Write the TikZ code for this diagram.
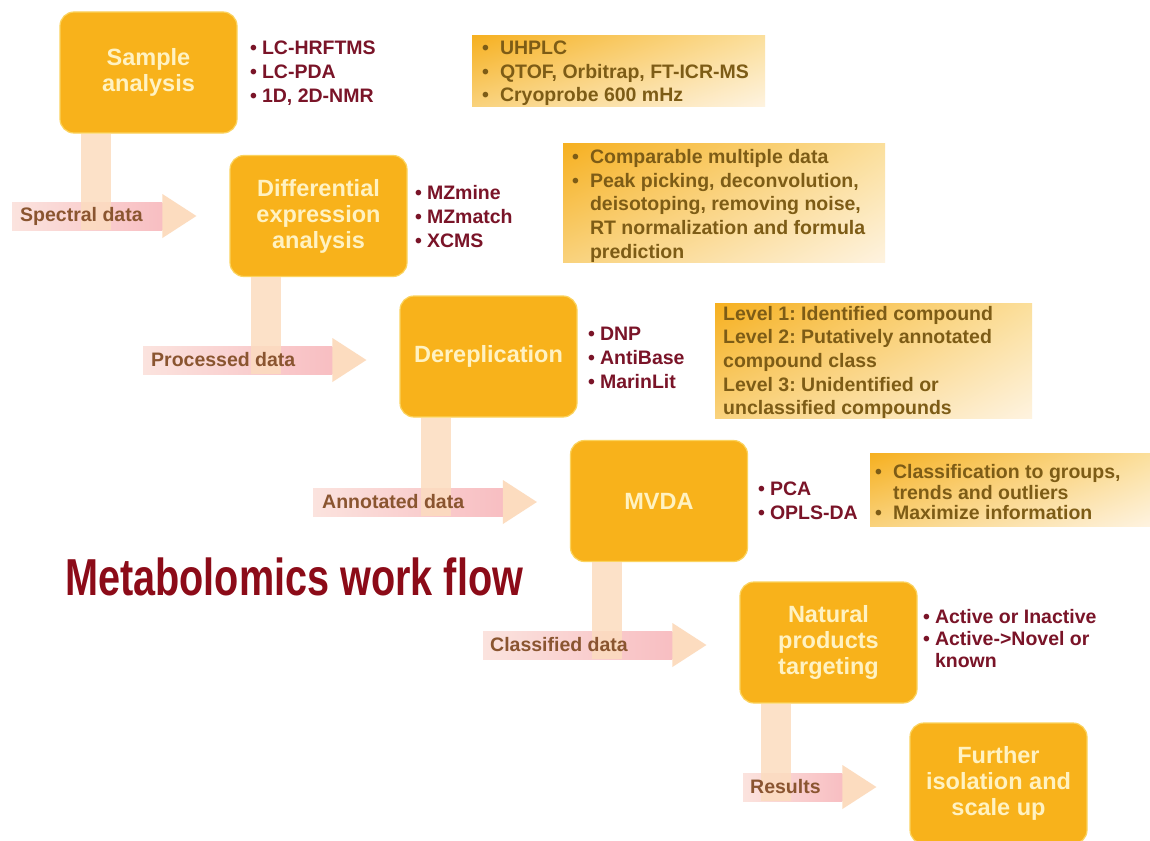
\documentclass[tikz,border=0pt]{standalone}
\usepackage{fontspec}
\setmainfont{Liberation Sans}
\usetikzlibrary{calc,shadings}
\frenchspacing
\definecolor{boxfill}{HTML}{F8B21B}
\definecolor{boxedge}{HTML}{FBD35E}
\definecolor{boxtext}{HTML}{FFF2C2}
\definecolor{listred}{HTML}{7A1428}
\definecolor{infotext}{HTML}{7D5C16}
\definecolor{lbltext}{HTML}{8A5530}
\definecolor{barcol}{HTML}{FCDCBF}
\definecolor{shaftL}{HTML}{FBE3DE}
\definecolor{shaftR}{HTML}{F8BEC2}
\definecolor{titlered}{HTML}{8C0B18}
\definecolor{infoUL}{HTML}{F6B020}
\definecolor{infoUR}{HTML}{FBDF9C}
\definecolor{infoLL}{HTML}{F9D27C}
\definecolor{infoLR}{HTML}{FEF3E0}
\tikzset{
  stage/.style={rounded corners=14pt, fill=boxfill, draw=boxedge, line width=1.2pt,
    minimum width=177pt, minimum height=121pt, text=boxtext,
    font=\fontsize{23.5}{26}\selectfont\bfseries, align=center, inner sep=0pt},
  blist/.style={anchor=north west, inner sep=0pt, text=listred,
    font=\fontsize{19.5}{24}\selectfont\bfseries},
  infobox/.style={anchor=north west, inner sep=0pt, shade,
    upper left=infoUL, upper right=infoUR, lower left=infoLL, lower right=infoLR},
  infotxt/.style={anchor=north west, inner sep=0pt, text=infotext,
    font=\fontsize{19.5}{23.6}\selectfont\bfseries},
  lbl/.style={anchor=west, inner sep=0pt, text=lbltext,
    font=\fontsize{19.5}{24}\selectfont\bfseries},
  barstyle/.style={fill=barcol, opacity=0.85},
  shaftstyle/.style={left color=shaftL, right color=shaftR},
  headstyle/.style={fill=barcol}
}
\newcommand{\bl}{\textbullet}
\begin{document}
\begin{tikzpicture}[x=1pt,y=-1pt]
\fill[white] (0,0) rectangle (1150,840);
\useasboundingbox (0,0) rectangle (1150,840);

% stage boxes
\node[stage] (b1) at (148.5,72.5) {Sample\\analysis};
\node[stage] (b2) at (318.5,216) {Differential\\expression\\analysis};
\node[stage] (b3) at (488.5,356.5) {Dereplication};
\node[stage] (b4) at (659,501) {MVDA};
\node[stage] (b5) at (828.5,642.5) {Natural\\products\\targeting};
\node[stage] (b6) at (998.5,783.5) {Further\\isolation and\\scale up};

% tool lists
\node[blist] (l1) at (250,38) {\begin{tabular}{@{}l@{\hskip 5pt}l@{}}\bl & LC-HRFTMS\\ \bl & LC-PDA\\ \bl & 1D, 2D-NMR\end{tabular}};
\node[blist] (l2) at (415,182) {\begin{tabular}{@{}l@{\hskip 5pt}l@{}}\bl & MZmine\\ \bl & MZmatch\\ \bl & XCMS\end{tabular}};
\node[blist] (l3) at (588,323) {\begin{tabular}{@{}l@{\hskip 5pt}l@{}}\bl & DNP\\ \bl & AntiBase\\ \bl & MarinLit\end{tabular}};
\node[blist] (l4) at (758,478) {\begin{tabular}{@{}l@{\hskip 5pt}l@{}}\bl & PCA\\ \bl & OPLS-DA\end{tabular}};
\node[blist, font=\fontsize{19.5}{22}\selectfont\bfseries] (l5) at (923,608) {\begin{tabular}{@{}l@{\hskip 5pt}l@{}}\bl & Active or Inactive\\ \bl & Active->Novel or\\ & known\end{tabular}};

% info boxes
\node[infobox, minimum width=293pt, minimum height=71pt] (i1) at (472,35) {};
\node[infotxt] (i1t) at (482,38) {\begin{tabular}{@{}l@{\hskip 11pt}l@{}}\bl & UHPLC\\ \bl & QTOF, Orbitrap, FT-ICR-MS\\ \bl & Cryoprobe 600 mHz\end{tabular}};
\node[infobox, minimum width=322pt, minimum height=119pt] (i2) at (563,143) {};
\node[infotxt] (i2t) at (572,147) {\begin{tabular}{@{}l@{\hskip 11pt}l@{}}\bl & Comparable multiple data\\ \bl & Peak picking, deconvolution,\\ & deisotoping, removing noise,\\ & RT normalization and formula\\ & prediction\end{tabular}};
\node[infobox, minimum width=317pt, minimum height=115pt] (i3) at (715,303) {};
\node[infotxt, align=left] (i3t) at (723,306) {Level 1: Identified compound\\Level 2: Putatively annotated\\compound class\\Level 3: Unidentified or\\unclassified compounds};
\node[infobox, minimum width=280pt, minimum height=73pt] (i4) at (870,453) {};
\node[infotxt, font=\fontsize{19.5}{20.5}\selectfont\bfseries] (i4t) at (875,464) {\begin{tabular}{@{}l@{\hskip 11pt}l@{}}\bl & Classification to groups,\\ & trends and outliers\\ \bl & Maximize information\end{tabular}};

% connector start points
\coordinate (s1) at (12,216);
\coordinate (s2) at (143,360);
\coordinate (s3) at (313,502);
\coordinate (s4) at (483,645);
\coordinate (s5) at (743,787);

% elbow connectors
\foreach \a/\s/\t in {b1/s1/b2, b2/s2/b3, b3/s3/b4, b4/s4/b5, b5/s5/b6}{
  \shade[shaftstyle] let \p1=(\s), \p2=($(\t.west)+(-33,0)$) in
    (\x1,\y1-14pt) rectangle (\x2-34pt,\y1+14pt);
  \fill[headstyle] let \p1=(\s), \p2=($(\t.west)+(-33,0)$) in
    (\x2-34pt,\y1+22pt) -- (\x2,\y1) -- (\x2-34pt,\y1-22pt) -- cycle;
  \fill[barstyle] let \p1=(\a.south west), \p2=(\s) in
    (\x1+22pt,\y1) rectangle (\x1+52pt,\y2-14pt);
}

% connector labels
\node[lbl] (t1) at ($(s1)+(8,0)$) {Spectral data};
\node[lbl] (t2) at ($(s2)+(8,0)$) {Processed data};
\node[lbl] (t3) at ($(s3)+(9,0)$) {Annotated data};
\node[lbl] (t4) at ($(s4)+(7,0)$) {Classified data};
\node[lbl] (t5) at ($(s5)+(7,0)$) {Results};

% title
\node[anchor=base west, inner sep=0pt, text=titlered, font=\fontsize{52}{52}\selectfont\bfseries] (title) at (65,595) {\scalebox{0.762}[1]{Metabolomics work flow}};
\end{tikzpicture}
\end{document}
